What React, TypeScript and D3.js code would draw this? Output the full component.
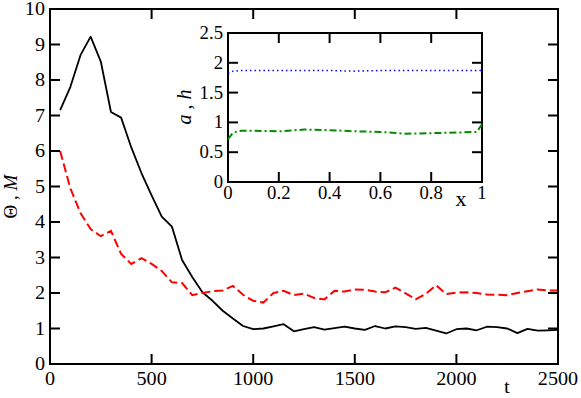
import React from 'react';
import * as d3 from 'd3';

const width = 581;
const height = 398;
const frame = { left: 50, right: 558, top: 9, bottom: 364 };
const insetFrame = { left: 228, right: 482, top: 33, bottom: 182 };

// main panel data
const tValues = [
  50, 100, 150, 200, 250, 300, 350, 400, 450, 500,
  550, 600, 650, 700, 750, 800, 850, 900, 950, 1000,
  1050, 1100, 1150, 1200, 1250, 1300, 1350, 1400, 1450, 1500,
  1550, 1600, 1650, 1700, 1750, 1800, 1850, 1900, 1950, 2000,
  2050, 2100, 2150, 2200, 2250, 2300, 2350, 2400, 2450, 2500,
];
const thetaValues = [
  7.15, 7.8, 8.7, 9.22, 8.52, 7.1, 6.94, 6.1, 5.38, 4.75,
  4.15, 3.87, 2.93, 2.45, 2.02, 1.78, 1.5, 1.28, 1.07, 0.98,
  1.0, 1.06, 1.12, 0.92, 0.98, 1.04, 0.97, 1.01, 1.05, 1.0,
  0.96, 1.07, 1.0, 1.06, 1.04, 0.99, 1.02, 0.94, 0.86, 0.98,
  1.0, 0.95, 1.05, 1.04, 1.0, 0.87, 0.99, 0.94, 0.95, 0.96,
];
const massValues = [
  6.0, 4.95, 4.25, 3.8, 3.6, 3.75, 3.1, 2.82, 2.98, 2.82,
  2.62, 2.3, 2.28, 1.94, 2.0, 2.05, 2.07, 2.2, 1.95, 1.78,
  1.73, 2.0, 2.06, 1.94, 1.98, 1.86, 1.82, 2.06, 2.04, 2.1,
  2.09, 2.04, 2.02, 2.15, 1.99, 1.82, 1.98, 2.22, 1.97, 2.01,
  2.02, 2.0, 1.96, 1.95, 1.94, 2.0, 2.05, 2.1, 2.07, 2.07,
];
const xTicks = [0, 500, 1000, 1500, 2000, 2500];
const yTicks = [0, 1, 2, 3, 4, 5, 6, 7, 8, 9, 10];

// inset data
const insetX = [0, 0.02, 0.05, 0.1, 0.2, 0.3, 0.4, 0.5, 0.6, 0.7, 0.8, 0.9, 0.98, 1.0];
const aValues = [1.82, 1.86, 1.87, 1.87, 1.87, 1.87, 1.87, 1.86, 1.87, 1.87, 1.87, 1.87, 1.87, 1.87];
const hValues = [0.72, 0.83, 0.86, 0.86, 0.85, 0.88, 0.87, 0.85, 0.84, 0.81, 0.82, 0.83, 0.84, 0.97];
const insetXTicks = [0, 0.2, 0.4, 0.6, 0.8, 1];
const insetYTicks = [0, 0.5, 1, 1.5, 2, 2.5];

const font = 'Liberation Serif, Times New Roman, Times, serif';

const Label = ({ x, y, anchor = 'middle', size = 18, sx = 1.12, children }) => (
  <text
    transform={`translate(${x},${y}) scale(${sx},1)`}
    textAnchor={anchor}
    style={{ fontFamily: font }}
    fontSize={size}
    fill="black"
  >
    {children}
  </text>
);

const App = () => {
  const xScale = d3.scaleLinear().domain([0, 2500]).range([frame.left, frame.right]);
  const yScale = d3.scaleLinear().domain([0, 10]).range([frame.bottom, frame.top]);
  const ixScale = d3.scaleLinear().domain([0, 1]).range([insetFrame.left, insetFrame.right]);
  const iyScale = d3.scaleLinear().domain([0, 2.5]).range([insetFrame.bottom, insetFrame.top]);

  const mainLine = (vals) =>
    d3.line<number>()
      .x((_, i) => xScale(tValues[i]))
      .y((d) => yScale(d))(vals);
  const insetLine = (vals) =>
    d3.line<number>()
      .x((_, i) => ixScale(insetX[i]))
      .y((d) => iyScale(d))(vals);

  const tick = 10;

  return (
    <svg width={width} height={height} style={{ position: 'absolute', left: 0, top: 0, background: 'white' }}>
      {/* main curves */}
      <path d={mainLine(thetaValues)} fill="none" stroke="black" strokeWidth={1.8} strokeLinejoin="round" />
      <path d={mainLine(massValues)} fill="none" stroke="#ff0000" strokeWidth={2} strokeDasharray="9,4" />

      {/* main frame and ticks */}
      <rect
        x={frame.left}
        y={frame.top}
        width={frame.right - frame.left}
        height={frame.bottom - frame.top}
        fill="none"
        stroke="black"
        strokeWidth={2}
      />
      {xTicks.map((t) => (
        <g key={`x${t}`}>
          <line x1={xScale(t)} x2={xScale(t)} y1={frame.bottom} y2={frame.bottom - tick} stroke="black" strokeWidth={2} />
          <line x1={xScale(t)} x2={xScale(t)} y1={frame.top} y2={frame.top + tick} stroke="black" strokeWidth={2} />
          <Label x={xScale(t)} y={385}>{t}</Label>
        </g>
      ))}
      {yTicks.map((v) => (
        <g key={`y${v}`}>
          <line x1={frame.left} x2={frame.left + tick} y1={yScale(v)} y2={yScale(v)} stroke="black" strokeWidth={2} />
          <line x1={frame.right} x2={frame.right - tick} y1={yScale(v)} y2={yScale(v)} stroke="black" strokeWidth={2} />
          <Label x={45} y={yScale(v) + 6} anchor="end">{v}</Label>
        </g>
      ))}
      <Label x={507} y={393} size={19} sx={1.1}>t</Label>
      <text
        transform={`translate(17,${(frame.top + frame.bottom) / 2 + 10}) rotate(-90)`}
        textAnchor="middle"
        style={{ fontFamily: font }}
        fontSize={19}
      >
        Θ , <tspan fontStyle="italic">M</tspan>
      </text>

      {/* inset */}
      <rect
        x={insetFrame.left}
        y={insetFrame.top}
        width={insetFrame.right - insetFrame.left}
        height={insetFrame.bottom - insetFrame.top}
        fill="white"
        stroke="black"
        strokeWidth={2}
      />
      <path d={insetLine(aValues)} fill="none" stroke="#0000ff" strokeWidth={1.5} strokeDasharray="1.5,3" />
      <path d={insetLine(hValues)} fill="none" stroke="#008c00" strokeWidth={2} strokeDasharray="7,3,2,3" />
      {insetXTicks.map((v) => (
        <g key={`ix${v}`}>
          <line x1={ixScale(v)} x2={ixScale(v)} y1={insetFrame.bottom} y2={insetFrame.bottom - tick} stroke="black" strokeWidth={2} />
          <line x1={ixScale(v)} x2={ixScale(v)} y1={insetFrame.top} y2={insetFrame.top + tick} stroke="black" strokeWidth={2} />
          <Label x={ixScale(v)} y={199} sx={1.04}>{v}</Label>
        </g>
      ))}
      {insetYTicks.map((v) => (
        <g key={`iy${v}`}>
          <line x1={insetFrame.left} x2={insetFrame.left + tick} y1={iyScale(v)} y2={iyScale(v)} stroke="black" strokeWidth={2} />
          <line x1={insetFrame.right} x2={insetFrame.right - tick} y1={iyScale(v)} y2={iyScale(v)} stroke="black" strokeWidth={2} />
          <Label x={223} y={iyScale(v) + 6} anchor="end" sx={1.04}>{v}</Label>
        </g>
      ))}
      <Label x={461} y={206} size={20} sx={1.1}>x</Label>
      <text
        transform={`translate(191,107) rotate(-90)`}
        textAnchor="middle"
        style={{ fontFamily: font }}
        fontSize={20}
        fontStyle="italic"
      >
        a , h
      </text>
    </svg>
  );
};

export default App;
